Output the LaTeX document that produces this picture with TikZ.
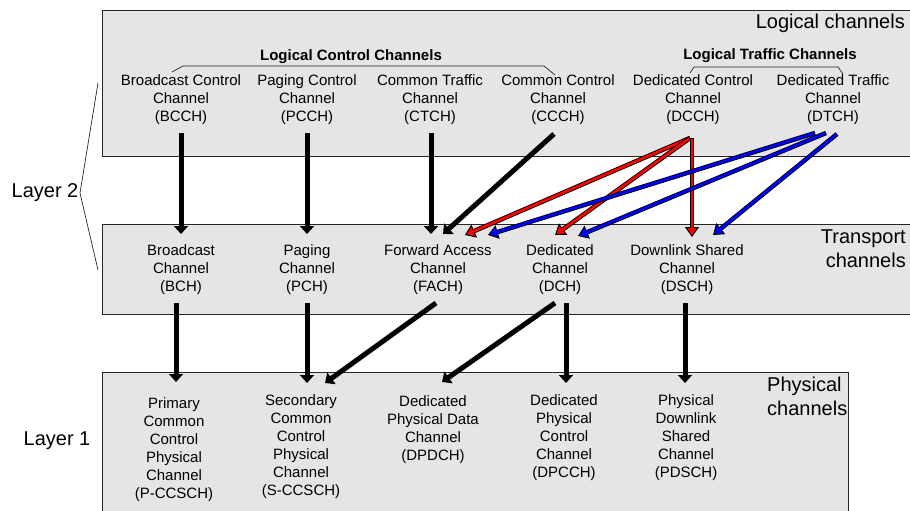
\documentclass[tikz,border=0pt]{standalone}
\usepackage{fontspec}
\setmainfont{Liberation Sans}
\usetikzlibrary{arrows.meta}

% Two-tone arrow: black outline with a coloured core and a coloured head
\newcommand{\colarrow}[3]{%
  \draw[line width=4.5pt, -{Triangle[width=14pt,length=10pt,fill=#1,line width=1pt]}] #2 -- #3;
  \draw[line width=2.7pt, #1, shorten <=0.9pt, shorten >=8pt] #2 -- #3;
}

\begin{document}
\begin{tikzpicture}[x=1pt, y=-1pt,
  layerbox/.style={draw=black!85, line width=0.9pt, fill=gray!20},
  chan/.style={align=center, inner sep=0pt, font=\fontsize{15}{18}\selectfont},
  bigtext/.style={inner sep=0pt, font=\fontsize{20}{24}\selectfont},
  heading/.style={inner sep=0pt, font=\fontsize{15}{18}\selectfont\bfseries},
  thin/.style={draw=black!85, line width=0.7pt},
  blkarrow/.style={line width=5pt, -{Triangle[width=14pt,length=8pt]}}
]
\useasboundingbox (0,0) rectangle (910,511);
\clip (0,0) rectangle (910,511);

% Layer boxes
\path[layerbox] (102,10) rectangle (920,156);
\path[layerbox] (102,224) rectangle (920,314);
\path[layerbox] (102,372) rectangle (848,520);

% Box titles
\node[bigtext, anchor=east] (logl) at (905,23) {Logical channels};
\node[bigtext, align=right, anchor=east] (tranl) at (906,249) {Transport\\channels};
\node[bigtext, align=left, anchor=west] (physl) at (767,396) {Physical\\channels};

% Layer labels and brace
\node[bigtext] (l2) at (45,193) {Layer 2};
\node[bigtext] (l1) at (57,441) {Layer 1};
\draw[thin] (98,83) -- (80,193) -- (98,270);

% Group headings with their brackets
\node[heading] (lcc) at (351,57) {Logical Control Channels};
\node[heading] (ltc) at (770,56) {Logical Traffic Channels};
\draw[thin] (172,72) -- (183,66) -- (544,66) -- (555,75);
\draw[thin] (690,73) -- (694,67) -- (838,67) -- (843,74);

% Logical channels
\node[chan] (bcch) at (181,100) {Broadcast Control\\Channel\\(BCCH)};
\node[chan] (pcch) at (307,100) {Paging Control\\Channel\\(PCCH)};
\node[chan] (ctch) at (430,100) {Common Traffic\\Channel\\(CTCH)};
\node[chan] (ccch) at (558,100) {Common Control\\Channel\\(CCCH)};
\node[chan] (dcch) at (693,100) {Dedicated Control\\Channel\\(DCCH)};
\node[chan] (dtch) at (833,100) {Dedicated Traffic\\Channel\\(DTCH)};

% Transport channels
\node[chan] (bch) at (181,270) {Broadcast\\Channel\\(BCH)};
\node[chan] (pch) at (307,270) {Paging\\Channel\\(PCH)};
\node[chan] (fach) at (438,270) {Forward Access\\Channel\\(FACH)};
\node[chan] (dch) at (560,270) {Dedicated\\Channel\\(DCH)};
\node[chan] (dsch) at (687,270) {Downlink Shared\\Channel\\(DSCH)};

% Physical channels
\node[chan] (pccsch) at (174,450) {Primary\\Common\\Control\\Physical\\Channel\\(P-CCSCH)};
\node[chan] (sccsch) at (301,447) {Secondary\\Common\\Control\\Physical\\Channel\\(S-CCSCH)};
\node[chan] (dpdch) at (433,430) {Dedicated\\Physical Data\\Channel\\(DPDCH)};
\node[chan] (dpcch) at (564,438) {Dedicated\\Physical\\Control\\Channel\\(DPCCH)};
\node[chan] (pdsch) at (686,438) {Physical\\Downlink\\Shared\\Channel\\(PDSCH)};

% Logical -> transport mappings
\draw[blkarrow] ([shift={(0,33)}]bcch.center) -- ([shift={(0,-36)}]bch.center);
\draw[blkarrow] ([shift={(0,33)}]pcch.center) -- ([shift={(0,-36)}]pch.center);
\draw[blkarrow] ([shift={(1,33)}]ctch.center) -- ([shift={(-7,-36)}]fach.center);
\draw[blkarrow] ([shift={(-4,34)}]ccch.center) -- ([shift={(5,-36)}]fach.center);

\colarrow{red}{([shift={(-3,38)}]dcch.center)}{([shift={(27,-35)}]fach.center)}
\colarrow{red}{([shift={(-3,38)}]dcch.center)}{([shift={(-5,-35)}]dch.center)}
\colarrow{red}{([shift={(-1,38)}]dcch.center)}{([shift={(5,-33)}]dsch.center)}

\colarrow{blue}{([shift={(-18,33)}]dtch.center)}{([shift={(50,-35)}]fach.center)}
\colarrow{blue}{([shift={(-7,33)}]dtch.center)}{([shift={(18,-34)}]dch.center)}
\colarrow{blue}{([shift={(4,34)}]dtch.center)}{([shift={(26,-35)}]dsch.center)}

% Transport -> physical mappings
\draw[blkarrow] ([shift={(-5,33)}]bch.center) -- ([shift={(2,-68)}]pccsch.center);
\draw[blkarrow] ([shift={(0,33)}]pch.center) -- ([shift={(6,-64)}]sccsch.center);
\draw[blkarrow] ([shift={(-2,33)}]fach.center) -- ([shift={(24,-64)}]sccsch.center);
\draw[blkarrow] ([shift={(-5,33)}]dch.center) -- ([shift={(9,-48)}]dpdch.center);
\draw[blkarrow] ([shift={(6,33)}]dch.center) -- ([shift={(2,-55)}]dpcch.center);
\draw[blkarrow] ([shift={(-2,33)}]dsch.center) -- ([shift={(-1,-55)}]pdsch.center);
\end{tikzpicture}
\end{document}
